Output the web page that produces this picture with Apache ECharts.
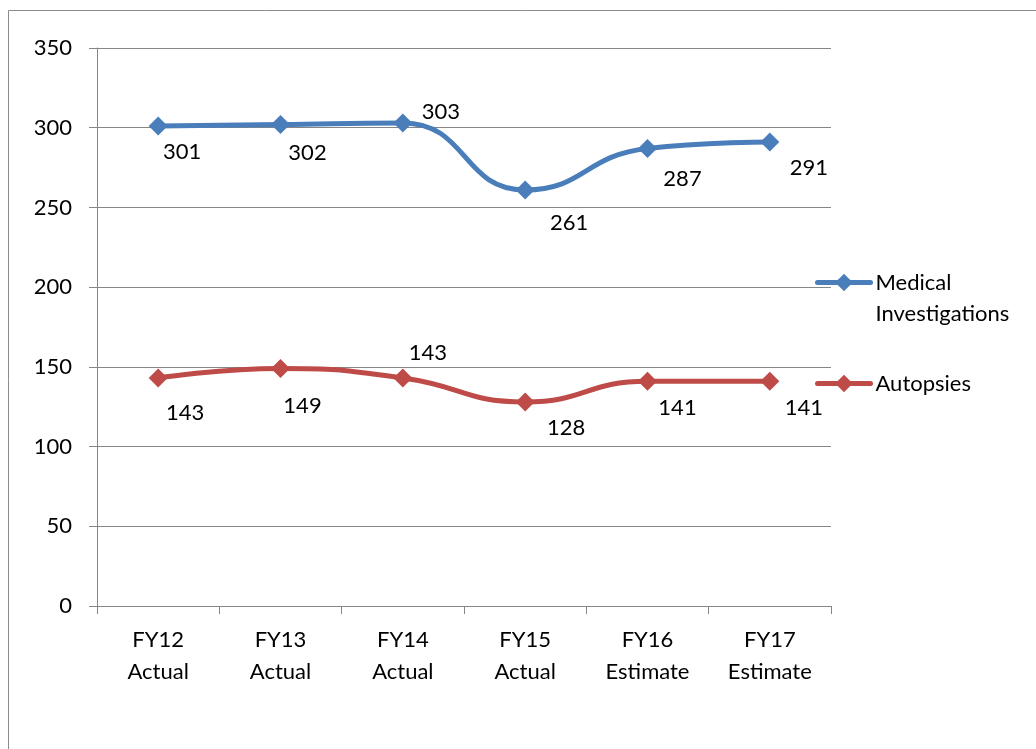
<!DOCTYPE html>
<html>
<head>
<meta charset="utf-8">
<script src="https://cdn.jsdelivr.net/npm/echarts@6/dist/echarts.min.js"></script>
<style>
  html, body { margin: 0; padding: 0; background: #fff; }
  #chart { width: 1036px; height: 749px; }
</style>
</head>
<body>
<div id="chart"></div>
<script>
// Fiscal years shown on the category axis
const categories = ['FY12\nActual', 'FY13\nActual', 'FY14\nActual', 'FY15\nActual', 'FY16\nEstimate', 'FY17\nEstimate'];
// Caseload counts per fiscal year
const medicalInvestigations = [301, 302, 303, 261, 287, 291];
const autopsies = [143, 149, 143, 128, 141, 141];
// Value axis ticks
const yTicks = { min: 0, max: 350, interval: 50 };

// Hand-placed data label offsets (pixels), one per point
const medicalLabelOffsets = [[24, 26], [27, 28], [38, -11], [44, 33], [35, 30], [39, 26]];
const autopsyLabelOffsets = [[27, 35], [22, 37], [25, -25], [41, 26], [30, 27], [34, 27]];

const FONT = 'Lato';
const TEXT = '#000000';
const GRID_GRAY = '#868686';
const BLUE = '#4A7EBB';
const RED = '#BE4B48';

function pointsWithLabels(values, offsets) {
  return values.map((v, i) => ({
    value: v,
    label: { offset: offsets[i] }
  }));
}

const chart = echarts.init(document.getElementById('chart'), null, { renderer: 'canvas' });

const labelStyle = {
  show: true,
  position: 'inside',
  color: TEXT,
  fontFamily: FONT,
  fontSize: 22
};

const legendCommon = {
  orient: 'vertical',
  left: 815,
  padding: 0,
  selectedMode: false,
  itemWidth: 53,
  itemHeight: 22,
  lineStyle: { width: 5, cap: 'round' },
  textStyle: { color: TEXT, fontFamily: FONT, fontSize: 22, lineHeight: 31 }
};

chart.setOption({
  animation: false,
  backgroundColor: '#ffffff',
  graphic: [{
    type: 'rect',
    silent: true,
    shape: { x: 8.5, y: 10.5, width: 1200, height: 900 },
    style: { fill: 'none', stroke: '#8c8c8c', lineWidth: 1 }
  }],
  grid: { left: 97, right: 205, top: 48, bottom: 143, containLabel: false },
  legend: [Object.assign({}, legendCommon, {
    data: ['Medical Investigations'],
    top: 236,
    formatter: () => ' \nMedical\nInvestigations'
  }), Object.assign({}, legendCommon, {
    data: ['Autopsies'],
    top: 368
  })],
  xAxis: {
    type: 'category',
    data: categories,
    boundaryGap: true,
    axisLine: { lineStyle: { color: GRID_GRAY, width: 1 } },
    axisTick: { show: true, interval: 0, length: 8, lineStyle: { color: GRID_GRAY } },
    axisLabel: {
      interval: 0,
      margin: 18,
      color: TEXT,
      fontFamily: FONT,
      fontSize: 22,
      lineHeight: 32
    },
    splitLine: { show: false }
  },
  yAxis: {
    type: 'value',
    min: yTicks.min,
    max: yTicks.max,
    interval: yTicks.interval,
    axisLine: { show: true, lineStyle: { color: GRID_GRAY, width: 1 } },
    axisTick: { show: true, length: 8, lineStyle: { color: GRID_GRAY } },
    axisLabel: { margin: 25, color: TEXT, fontFamily: FONT, fontSize: 22 },
    splitLine: { show: true, lineStyle: { color: GRID_GRAY, width: 1 } }
  },
  series: [{
    name: 'Medical Investigations',
    type: 'line',
    data: pointsWithLabels(medicalInvestigations, medicalLabelOffsets),
    smooth: 0.5,
    symbol: 'diamond',
    symbolSize: 19,
    itemStyle: { color: BLUE },
    lineStyle: { color: BLUE, width: 5 },
    label: labelStyle
  }, {
    name: 'Autopsies',
    type: 'line',
    data: pointsWithLabels(autopsies, autopsyLabelOffsets),
    smooth: 0.5,
    symbol: 'diamond',
    symbolSize: 19,
    itemStyle: { color: RED },
    lineStyle: { color: RED, width: 5 },
    label: labelStyle
  }]
});
</script>
</body>
</html>
